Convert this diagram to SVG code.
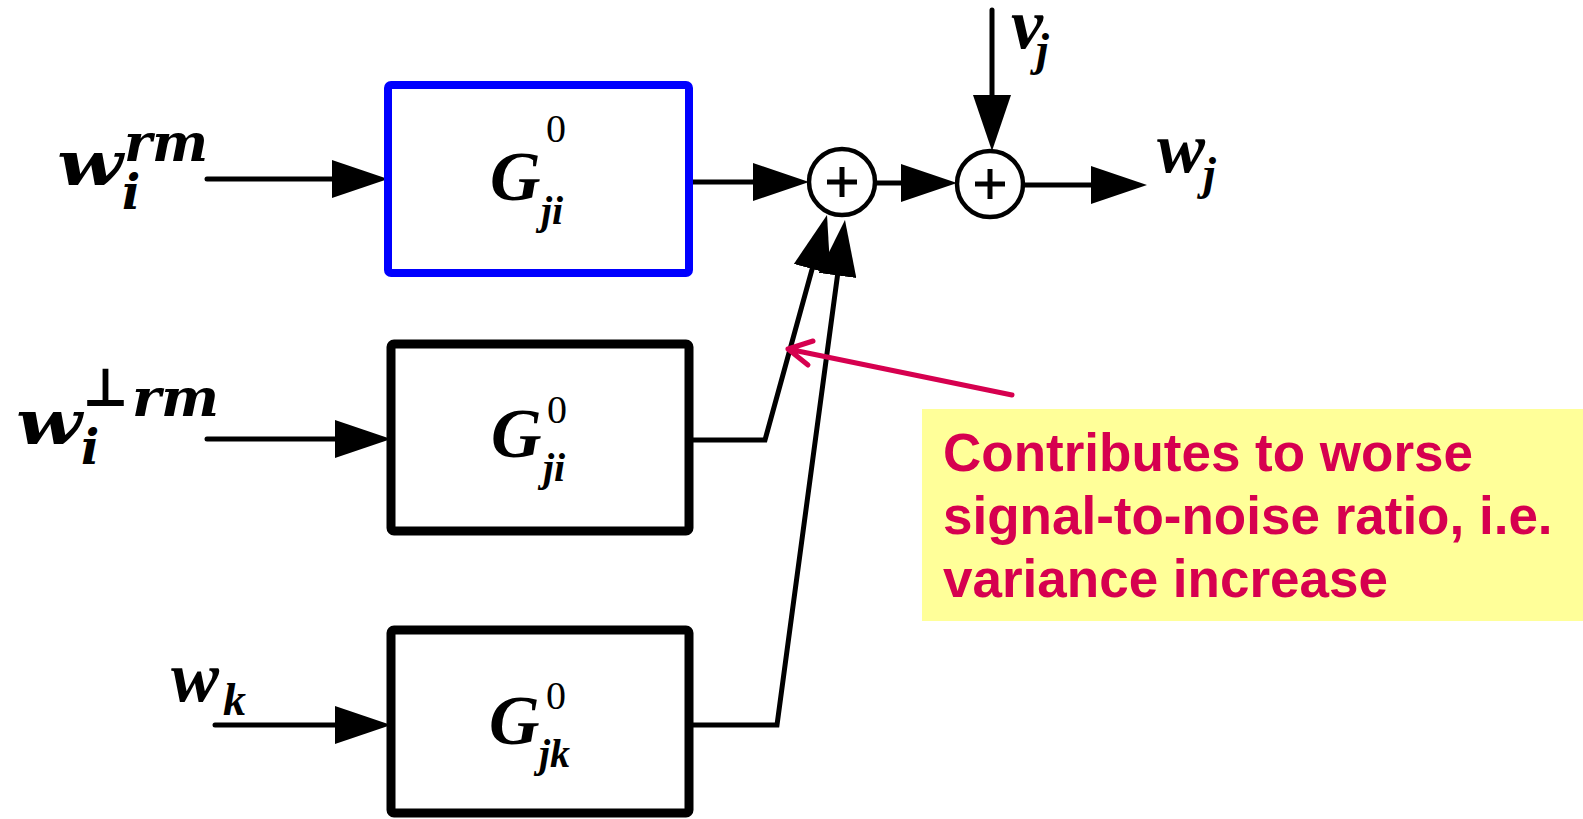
<svg xmlns="http://www.w3.org/2000/svg" width="1583" height="819" viewBox="0 0 1583 819">
<defs>
<style>
.wire{fill:none;stroke:#000;stroke-width:5;stroke-linecap:round;stroke-linejoin:miter}
.box{fill:#fff;stroke:#000;stroke-width:9;stroke-linejoin:round}
.sum{fill:#fff;stroke:#000;stroke-width:4.5}
.plus{stroke:#000;stroke-width:5;fill:none}
.tex{font-family:"DejaVu Serif",serif;font-weight:bold;font-style:italic;fill:#000}
.tm{font-family:"Liberation Serif","Times New Roman",serif;font-weight:bold;font-style:italic;fill:#000}
.up{font-style:normal;font-weight:normal}
.note{font-family:"Liberation Sans",Arial,sans-serif;font-weight:bold;font-size:53px;fill:#D6004F}
</style>
<marker id="ah" markerUnits="userSpaceOnUse" viewBox="0 0 56 38" markerWidth="56" markerHeight="38" refX="36" refY="19" orient="auto">
<path d="M0,0 L56,19 L0,38 Z" fill="#000"/>
</marker>
</defs>
<rect width="1583" height="819" fill="#fff"/>

<g id="connectors">
<line class="wire" x1="207" y1="179" x2="368" y2="179" marker-end="url(#ah)"/>
<line class="wire" x1="207" y1="439" x2="371" y2="439" marker-end="url(#ah)"/>
<line class="wire" x1="215" y1="725" x2="371" y2="725" marker-end="url(#ah)"/>
<line class="wire" x1="689" y1="182" x2="789" y2="182" marker-end="url(#ah)"/>
<line class="wire" x1="875" y1="183" x2="937" y2="183" marker-end="url(#ah)"/>
<line class="wire" x1="1023" y1="185" x2="1127" y2="185" marker-end="url(#ah)"/>
<line class="wire" x1="992" y1="10" x2="992" y2="131" marker-end="url(#ah)"/>
<polyline class="wire" points="691,440 765,440 821.7,234.3" marker-end="url(#ah)"/>
<polyline class="wire" points="691,725 777,725 842.3,239.8" marker-end="url(#ah)"/>
</g>

<g id="box1">
<rect x="388" y="85" width="301" height="188" rx="3" fill="#fff" stroke="#0000FF" stroke-width="8" stroke-linejoin="round"/>
<text class="tm" x="490" y="200" font-size="70">G<tspan class="up" x="546" y="142" font-size="40">0</tspan><tspan x="541" y="224" font-size="40">ji</tspan></text>
</g>

<g id="box2">
<rect class="box" x="391" y="344" width="298" height="187" rx="3"/>
<text class="tm" x="491" y="457" font-size="70">G<tspan class="up" x="547" y="423" font-size="40">0</tspan><tspan x="543" y="481" font-size="40">ji</tspan></text>
</g>

<g id="box3">
<rect class="box" x="391" y="630" width="298" height="183" rx="3"/>
<text class="tm" x="489" y="744" font-size="70">G<tspan class="up" x="546" y="709" font-size="40">0</tspan><tspan x="539" y="767" font-size="40">jk</tspan></text>
</g>

<g id="sum1">
<circle class="sum" cx="842" cy="182" r="33"/>
<path class="plus" d="M827,182 H857 M842,167 V197"/>
</g>

<g id="sum2">
<circle class="sum" cx="990" cy="184" r="33"/>
<path class="plus" d="M975,184 H1005 M990,169 V199"/>
</g>

<g id="label-wi-rm">
<text class="tex" x="57" y="185" font-size="62"><tspan textLength="66" lengthAdjust="spacingAndGlyphs">w</tspan><tspan x="122" y="209" font-size="48">i</tspan><tspan x="124" y="161" font-size="52" textLength="84" lengthAdjust="spacingAndGlyphs">rm</tspan></text>
</g>

<g id="label-wi-perp-rm">
<text class="tex" x="16" y="444" font-size="62"><tspan textLength="66" lengthAdjust="spacingAndGlyphs">w</tspan><tspan x="81" y="464" font-size="48">i</tspan><tspan x="82" y="406" font-size="54" textLength="47" lengthAdjust="spacingAndGlyphs">⊥</tspan><tspan x="132" y="416" font-size="52" textLength="87" lengthAdjust="spacingAndGlyphs">rm</tspan></text>
</g>

<g id="label-wk">
<text class="tm" x="171" y="701" font-size="72">w<tspan x="223" y="715" font-size="46">k</tspan></text>
</g>

<g id="label-vj">
<text class="tm" x="1011" y="48" font-size="72">v<tspan x="1036" y="65" font-size="46">j</tspan></text>
</g>

<g id="label-wj">
<text class="tm" x="1157" y="172" font-size="72">w<tspan x="1203" y="189" font-size="46">j</tspan></text>
</g>

<g id="annotation">
<rect x="922" y="409" width="661" height="212" fill="#FFFF99"/>
<text class="note" x="943" y="471">Contributes to worse</text>
<text class="note" x="943" y="534">signal-to-noise ratio, i.e.</text>
<text class="note" x="943" y="597">variance increase</text>
<path d="M1012,395 L788,349 M813,341 L788,349 L808,365" fill="none" stroke="#D6004F" stroke-width="5" stroke-linecap="round" stroke-linejoin="round"/>
</g>
</svg>
